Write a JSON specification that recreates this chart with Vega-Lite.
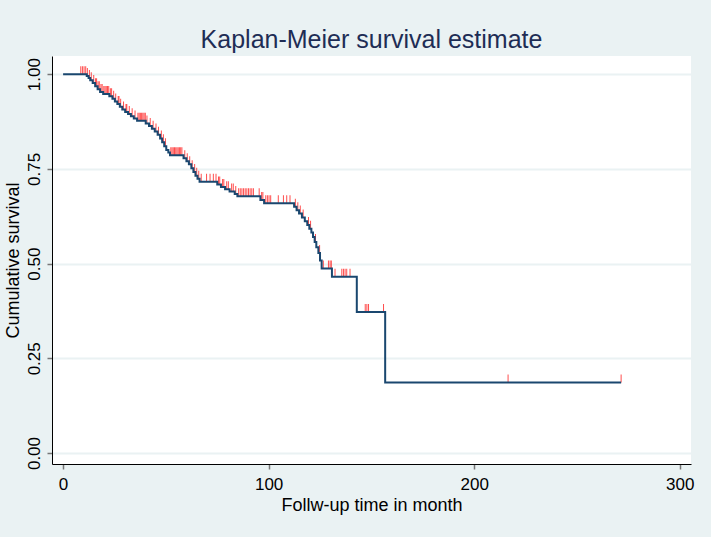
{
  "$schema": "https://vega.github.io/schema/vega-lite/v6.json",
  "width": 639,
  "height": 408,
  "autosize": {"type": "none"},
  "padding": {"left": 52, "top": 56, "right": 20, "bottom": 73},
  "background": "#EAF2F3",
  "view": {"fill": "white", "stroke": null},
  "config": {"font": "Liberation Sans"},
  "title": {"text": "Kaplan-Meier survival estimate", "fontSize": 25, "fontWeight": "normal", "color": "#1E2D55", "anchor": "middle", "offset": 3, "font": "Liberation Sans"},
  "datasets": {
    "km": [
      {"t": 0, "s": 1.0}, {"t": 11.5, "s": 0.995}, {"t": 12.4, "s": 0.99}, {"t": 13.2, "s": 0.984}, {"t": 14.4, "s": 0.977},
      {"t": 15.6, "s": 0.968}, {"t": 16.8, "s": 0.96}, {"t": 18.0, "s": 0.953}, {"t": 19.5, "s": 0.948}, {"t": 22.5, "s": 0.942},
      {"t": 24.0, "s": 0.935}, {"t": 25.2, "s": 0.928}, {"t": 26.4, "s": 0.921}, {"t": 27.6, "s": 0.914}, {"t": 28.8, "s": 0.907},
      {"t": 30.2, "s": 0.9}, {"t": 31.6, "s": 0.895}, {"t": 33.0, "s": 0.889}, {"t": 34.4, "s": 0.883}, {"t": 36.0, "s": 0.877},
      {"t": 40.2, "s": 0.87}, {"t": 41.8, "s": 0.863}, {"t": 43.2, "s": 0.856}, {"t": 44.6, "s": 0.849}, {"t": 46.0, "s": 0.84},
      {"t": 47.2, "s": 0.83}, {"t": 48.2, "s": 0.82}, {"t": 49.2, "s": 0.81}, {"t": 50.2, "s": 0.8}, {"t": 51.2, "s": 0.793},
      {"t": 52.0, "s": 0.786}, {"t": 58.6, "s": 0.778}, {"t": 60.0, "s": 0.77}, {"t": 61.2, "s": 0.762}, {"t": 62.4, "s": 0.752},
      {"t": 63.4, "s": 0.742}, {"t": 64.4, "s": 0.732}, {"t": 65.4, "s": 0.724}, {"t": 66.4, "s": 0.716}, {"t": 75.0, "s": 0.709},
      {"t": 76.8, "s": 0.702}, {"t": 78.8, "s": 0.696}, {"t": 81.0, "s": 0.69}, {"t": 83.5, "s": 0.684}, {"t": 84.8, "s": 0.678},
      {"t": 96.0, "s": 0.668}, {"t": 97.8, "s": 0.659}, {"t": 112.4, "s": 0.65}, {"t": 113.6, "s": 0.641}, {"t": 114.8, "s": 0.632},
      {"t": 116.2, "s": 0.622}, {"t": 117.6, "s": 0.612}, {"t": 118.8, "s": 0.602}, {"t": 119.8, "s": 0.592}, {"t": 120.8, "s": 0.582},
      {"t": 121.6, "s": 0.57}, {"t": 122.4, "s": 0.557}, {"t": 123.2, "s": 0.543}, {"t": 124.2, "s": 0.528}, {"t": 125.0, "s": 0.508},
      {"t": 125.8, "s": 0.487}, {"t": 130.8, "s": 0.465}, {"t": 142.9, "s": 0.3725}, {"t": 156.7, "s": 0.186}, {"t": 271.5, "s": 0.186}
    ],
    "censored": [
      {"t": 8.6, "s": 1.0}, {"t": 9.4, "s": 1.0}, {"t": 10.2, "s": 1.0}, {"t": 11.0, "s": 1.0},
      {"t": 11.8, "s": 0.995}, {"t": 12.8, "s": 0.99}, {"t": 13.7, "s": 0.984}, {"t": 14.9, "s": 0.977}, {"t": 15.8, "s": 0.968},
      {"t": 16.3, "s": 0.968}, {"t": 17.0, "s": 0.96}, {"t": 17.6, "s": 0.96}, {"t": 18.4, "s": 0.953}, {"t": 19.0, "s": 0.953},
      {"t": 19.8, "s": 0.948}, {"t": 20.4, "s": 0.948}, {"t": 21.0, "s": 0.948}, {"t": 21.6, "s": 0.948}, {"t": 22.2, "s": 0.948},
      {"t": 23.0, "s": 0.942}, {"t": 23.6, "s": 0.942}, {"t": 24.6, "s": 0.935}, {"t": 25.6, "s": 0.928}, {"t": 26.8, "s": 0.921},
      {"t": 27.2, "s": 0.921}, {"t": 28.0, "s": 0.914}, {"t": 29.4, "s": 0.907}, {"t": 30.6, "s": 0.9}, {"t": 31.0, "s": 0.9},
      {"t": 32.2, "s": 0.895}, {"t": 33.6, "s": 0.889}, {"t": 35.0, "s": 0.883}, {"t": 36.4, "s": 0.877}, {"t": 37.0, "s": 0.877},
      {"t": 37.6, "s": 0.877}, {"t": 38.2, "s": 0.877}, {"t": 38.8, "s": 0.877}, {"t": 39.4, "s": 0.877}, {"t": 40.0, "s": 0.877},
      {"t": 40.8, "s": 0.87}, {"t": 42.4, "s": 0.863}, {"t": 43.8, "s": 0.856}, {"t": 45.2, "s": 0.849}, {"t": 46.4, "s": 0.84},
      {"t": 47.8, "s": 0.83}, {"t": 48.8, "s": 0.82}, {"t": 49.8, "s": 0.81}, {"t": 52.4, "s": 0.786}, {"t": 53.0, "s": 0.786},
      {"t": 53.6, "s": 0.786}, {"t": 54.2, "s": 0.786}, {"t": 54.8, "s": 0.786}, {"t": 55.4, "s": 0.786}, {"t": 56.0, "s": 0.786},
      {"t": 56.6, "s": 0.786}, {"t": 57.2, "s": 0.786}, {"t": 57.8, "s": 0.786}, {"t": 59.2, "s": 0.778}, {"t": 60.4, "s": 0.77},
      {"t": 61.6, "s": 0.762}, {"t": 62.8, "s": 0.752}, {"t": 64.0, "s": 0.742}, {"t": 65.0, "s": 0.732}, {"t": 66.0, "s": 0.724},
      {"t": 67.2, "s": 0.716}, {"t": 69.8, "s": 0.716}, {"t": 71.5, "s": 0.716}, {"t": 73.1, "s": 0.716}, {"t": 74.4, "s": 0.716},
      {"t": 75.6, "s": 0.709}, {"t": 76.2, "s": 0.709}, {"t": 77.6, "s": 0.702}, {"t": 78.2, "s": 0.702}, {"t": 79.6, "s": 0.696},
      {"t": 80.4, "s": 0.696}, {"t": 82.0, "s": 0.69}, {"t": 82.8, "s": 0.69}, {"t": 84.0, "s": 0.684}, {"t": 85.4, "s": 0.678},
      {"t": 86.2, "s": 0.678}, {"t": 87.0, "s": 0.678}, {"t": 87.8, "s": 0.678}, {"t": 88.6, "s": 0.678}, {"t": 89.4, "s": 0.678},
      {"t": 90.2, "s": 0.678}, {"t": 91.0, "s": 0.678}, {"t": 91.8, "s": 0.678}, {"t": 92.6, "s": 0.678}, {"t": 95.4, "s": 0.678},
      {"t": 96.6, "s": 0.668}, {"t": 97.2, "s": 0.668}, {"t": 98.6, "s": 0.659}, {"t": 99.4, "s": 0.659}, {"t": 100.2, "s": 0.659},
      {"t": 101.0, "s": 0.659}, {"t": 104.7, "s": 0.659}, {"t": 107.2, "s": 0.659}, {"t": 108.8, "s": 0.659}, {"t": 110.4, "s": 0.659},
      {"t": 113.0, "s": 0.65}, {"t": 114.2, "s": 0.641}, {"t": 115.4, "s": 0.632}, {"t": 116.8, "s": 0.622}, {"t": 119.4, "s": 0.602},
      {"t": 120.4, "s": 0.592}, {"t": 122.8, "s": 0.557}, {"t": 124.8, "s": 0.528}, {"t": 126.6, "s": 0.487}, {"t": 129.1, "s": 0.487},
      {"t": 129.9, "s": 0.487}, {"t": 130.5, "s": 0.487}, {"t": 132.3, "s": 0.465}, {"t": 135.6, "s": 0.465}, {"t": 136.4, "s": 0.465},
      {"t": 137.2, "s": 0.465}, {"t": 138.0, "s": 0.465}, {"t": 139.6, "s": 0.465}, {"t": 147.0, "s": 0.3725}, {"t": 147.8, "s": 0.3725},
      {"t": 148.6, "s": 0.3725}, {"t": 155.9, "s": 0.3725}, {"t": 216.5, "s": 0.186}, {"t": 271.5, "s": 0.186}
    ]
  },
  "layer": [
    {
      "data": {"name": "censored"},
      "mark": {"type": "tick", "orient": "vertical", "size": 8, "thickness": 1, "yOffset": -4, "color": "#FF0000", "clip": true},
      "encoding": {
        "x": {"field": "t", "type": "quantitative", "scale": {"domain": [-5.4, 305.5], "nice": false, "zero": false},
          "axis": {"values": [0, 100, 200, 300], "grid": false, "title": "Follw-up time in month", "domainColor": "#000000", "domainWidth": 1, "tickColor": "#777777", "tickSize": 5, "tickWidth": 1.5, "labelFontSize": 17, "labelColor": "#000000", "labelPadding": 7, "titleFontSize": 18, "titleFontWeight": "normal", "titleColor": "#000000", "titlePadding": 4, "labelFont": "Liberation Sans", "titleFont": "Liberation Sans"}},
        "y": {"field": "s", "type": "quantitative", "scale": {"domain": [-0.029, 1.048], "nice": false, "zero": false},
          "axis": {"values": [0, 0.25, 0.5, 0.75, 1], "format": ".2f", "grid": true, "gridColor": "#EAF2F3", "gridWidth": 2, "title": "Cumulative survival", "domainColor": "#000000", "domainWidth": 1, "tickColor": "#777777", "tickSize": 5, "tickWidth": 1.5, "labelFontSize": 17, "labelColor": "#000000", "labelAngle": -90, "labelAlign": "center", "labelBaseline": "bottom", "labelPadding": 4, "titleFontSize": 18, "titleFontWeight": "normal", "titleColor": "#000000", "titlePadding": 3, "labelFont": "Liberation Sans", "titleFont": "Liberation Sans"}}
      }
    },
    {
      "data": {"name": "km"},
      "mark": {"type": "line", "interpolate": "step-after", "color": "#1A476F", "strokeWidth": 2, "clip": true},
      "encoding": {
        "x": {"field": "t", "type": "quantitative"},
        "y": {"field": "s", "type": "quantitative"}
      }
    }
  ]
}
